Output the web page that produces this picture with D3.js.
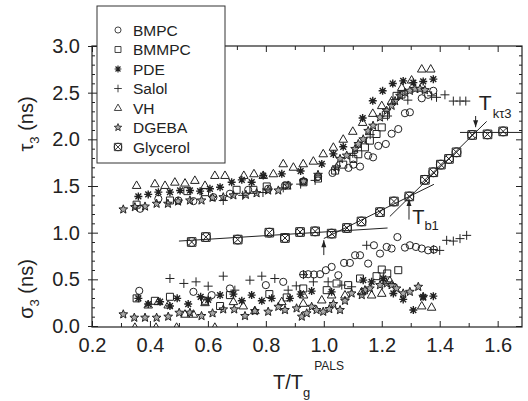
<!DOCTYPE html>
<html>
<head>
<meta charset="utf-8">
<script src="https://cdn.jsdelivr.net/npm/d3@7"></script>
<style>
  body { margin: 0; background: #fff; }
  svg text { font-family: "Liberation Sans", Arial, Helvetica, sans-serif; fill: #222; }
</style>
</head>
<body>
<svg id="chart" width="528" height="401"></svg>
<script>
// ---- data, [T/Tg, value in ns] ----
const bmpcTau = [[0.366,1.256],[0.429,1.363],[0.498,1.345],[0.55,1.338],[0.619,1.38],[0.676,1.417],[0.739,1.459],[0.808,1.47],[0.866,1.505],[0.93,1.55],[0.98,1.6],[1.03,1.64],[1.085,1.694],[1.102,1.729],[1.125,1.708],[1.153,1.826],[1.17,1.807],[1.188,1.93],[1.214,1.95],[1.234,2.06],[1.257,2.11],[1.28,2.28],[1.297,2.29],[1.338,2.44],[1.36,2.477],[1.378,2.52]];
const bmpcSigma = [[0.363,0.377],[0.55,0.366],[0.613,0.331],[0.676,0.402],[0.80,0.438],[0.86,0.473],[0.929,0.552],[0.946,0.555],[0.966,0.552],[0.987,0.555],[1.007,0.598],[1.027,0.633],[1.05,0.544],[1.07,0.676],[1.09,0.676],[1.108,0.758],[1.125,0.758],[1.153,0.669],[1.173,0.865],[1.194,0.776],[1.217,0.847],[1.234,0.83],[1.254,0.953],[1.28,0.84],[1.297,0.865],[1.318,0.847],[1.338,0.83],[1.36,0.811],[1.38,0.819]];

const bmmpcTau = [[0.354,1.30],[0.469,1.345],[0.529,1.445],[0.59,1.434],[0.699,1.459],[0.757,1.459],[0.803,1.495],[0.872,1.505],[0.93,1.54],[0.98,1.58],[1.039,1.665],[1.067,1.729],[1.102,1.79],[1.119,1.84],[1.142,1.914],[1.159,1.986],[1.182,2.057],[1.2,2.128],[1.214,2.263],[1.251,2.466],[1.268,2.48]];
const bmmpcSigma = [[0.354,0.296],[0.417,0.27],[0.469,0.313],[0.59,0.27],[0.642,0.214],[0.676,0.331],[0.812,0.342],[0.872,0.306],[0.929,0.402],[1.01,0.384],[1.044,0.456],[1.084,0.438],[1.125,0.509],[1.182,0.534],[1.20,0.605],[1.219,0.563],[1.257,0.598]];

const pdeTau = [[0.36,1.388],[0.394,1.41],[0.429,1.434],[0.469,1.434],[0.504,1.452],[0.538,1.452],[0.573,1.445],[0.607,1.47],[0.642,1.487],[0.682,1.54],[0.717,1.566],[0.751,1.54],[0.791,1.612],[0.855,1.63],[0.92,1.66],[0.993,1.737],[1.033,1.844],[1.067,1.92],[1.134,2.228],[1.169,2.413],[1.203,2.52],[1.238,2.598],[1.274,2.626],[1.309,2.608],[1.343,2.62],[1.378,2.645]];
const pdeSigma = [[0.36,0.296],[0.394,0.235],[0.435,0.26],[0.469,0.214],[0.494,0.296],[0.532,0.235],[0.575,0.313],[0.601,0.28],[0.642,0.331],[0.688,0.342],[0.717,0.27],[0.751,0.331],[0.786,0.27],[0.82,0.296],[0.883,0.296],[0.92,0.342],[0.958,0.374],[1.027,0.366],[1.136,0.491],[1.165,0.473],[1.205,0.509],[1.24,0.349],[1.274,0.285],[1.309,0.171],[1.343,0.313],[1.378,0.32]];

const salolTau = [[0.653,1.345],[0.72,1.40],[0.79,1.43],[0.86,1.48],[0.92,1.52],[0.97,1.56],[1.04,1.68],[1.1,1.85],[1.16,2.05],[1.22,2.25],[1.29,2.42],[1.372,2.466],[1.389,2.45],[1.418,2.477],[1.447,2.41],[1.47,2.41],[1.49,2.41]];
const salolSigma = [[0.469,0.509],[0.517,0.456],[0.559,0.473],[0.601,0.427],[0.653,0.534],[0.693,0.384],[0.745,0.491],[0.786,0.534],[0.831,0.509],[0.877,0.384],[0.905,0.43],[0.93,0.55],[0.964,0.473],[1.015,0.473],[1.062,0.438],[1.096,0.42],[1.148,0.865],[1.378,0.819],[1.40,0.81],[1.424,0.918],[1.447,0.91],[1.47,0.936],[1.493,0.971]];

const vhTau = [[0.354,1.505],[0.417,1.523],[0.452,1.505],[0.486,1.54],[0.521,1.53],[0.555,1.559],[0.59,1.505],[0.624,1.612],[0.659,1.612],[0.724,1.612],[0.759,1.63],[0.791,1.612],[0.826,1.63],[0.86,1.737],[0.895,1.70],[0.929,1.737],[0.964,1.765],[0.998,1.844],[1.033,1.914],[1.067,2.0],[1.1,2.085],[1.134,2.18],[1.169,2.277],[1.2,2.36],[1.234,2.41],[1.269,2.555],[1.303,2.634],[1.338,2.752],[1.369,2.752]];
const vhSigma = [[0.348,-0.015],[0.421,-0.015],[0.492,-0.015],[0.624,-0.015],[0.394,0.224],[0.429,0.26],[0.463,0.224],[0.521,0.125],[0.55,0.125],[0.59,0.249],[0.688,0.26],[0.722,0.214],[0.762,0.163],[0.855,0.26],[0.929,0.242],[0.93,0.331],[0.993,0.278],[1.027,0.331],[1.073,0.331],[1.131,0.366],[1.165,0.331],[1.2,0.349],[1.228,0.484],[1.338,0.214],[1.372,0.2]];

const dgebaTau = [[0.308,1.249],[0.348,1.274],[0.383,1.28],[0.423,1.31],[0.462,1.31],[0.497,1.334],[0.538,1.345],[0.578,1.345],[0.616,1.374],[0.653,1.38],[0.688,1.40],[0.731,1.406],[0.768,1.423],[0.808,1.452],[0.843,1.452],[0.877,1.505],[0.93,1.55],[0.98,1.62],[1.044,1.70],[1.056,1.79],[1.079,1.826],[1.108,1.897],[1.119,1.95],[1.136,2.0],[1.153,2.09],[1.17,2.146],[1.194,2.234],[1.217,2.306],[1.234,2.36],[1.246,2.41],[1.263,2.466],[1.28,2.50],[1.297,2.52],[1.315,2.54],[1.332,2.54],[1.349,2.527]];
const dgebaSigma = [[0.308,0.125],[0.346,0.089],[0.383,0.089],[0.423,0.089],[0.463,0.1],[0.501,0.142],[0.538,0.142],[0.578,0.107],[0.616,0.136],[0.653,0.178],[0.691,0.178],[0.728,0.107],[0.762,0.16],[0.808,0.153],[0.843,0.206],[0.866,0.171],[0.906,0.189],[0.924,0.1],[0.941,0.136],[0.958,0.206],[0.975,0.171],[0.998,0.153],[1.019,0.181],[1.033,0.235],[1.056,0.171],[1.073,0.27],[1.096,0.349],[1.131,0.331],[1.142,0.384],[1.159,0.402],[1.194,0.438],[1.217,0.456],[1.234,0.438],[1.251,0.402],[1.274,0.349],[1.297,0.366],[1.326,0.42],[1.343,0.313]];

const glycerolTau = [[0.544,0.90],[0.593,0.953],[0.703,0.926],[0.812,1.0],[0.866,0.943],[0.918,1.007],[0.970,1.014],[1.027,0.99],[1.08,1.05],[1.13,1.12],[1.194,1.22],[1.242,1.334],[1.295,1.388],[1.349,1.566],[1.378,1.647],[1.404,1.729],[1.432,1.79],[1.458,1.861],[1.512,2.047],[1.565,2.053],[1.619,2.085]];

// linear fits drawn through the glycerol data
const fitLines = [
  [[0.5, 0.91], [1.22, 1.05]],
  [[1.0, 0.937], [1.38, 1.518]],
  [[1.228, 1.174], [1.562, 2.192]],
  [[1.47, 2.074], [1.684, 2.074]]
];

const xMajor = [0.2, 0.4, 0.6, 0.8, 1.0, 1.2, 1.4, 1.6];
const yMajor = [0.0, 0.5, 1.0, 1.5, 2.0, 2.5, 3.0];

const seriesNames = ['BMPC', 'BMMPC', 'PDE', 'Salol', 'VH', 'DGEBA', 'Glycerol'];
const seriesKeys = ['circle', 'square', 'asterisk', 'plus', 'triangle', 'star', 'glycerol'];

// ---- layout ----
const svg = d3.select('#chart');
const ink = '#222';
const pLeft = 92, pRight = 522, pTop = 46, pBottom = 326;

const x = d3.scaleLinear().domain([0.2, 1.684]).range([pLeft, pRight]);
const y = d3.scaleLinear().domain([0, 3]).range([pBottom, pTop]);

// symbol shapes, centred on 0,0
function starPath(ro, ri) {
  let p = '';
  for (let i = 0; i < 10; i++) {
    const r = i % 2 ? ri : ro;
    const a = -Math.PI / 2 + i * Math.PI / 5;
    p += (i ? 'L' : 'M') + (r * Math.cos(a)).toFixed(2) + ',' + (r * Math.sin(a)).toFixed(2);
  }
  return p + 'Z';
}
const shapes = {
  circle:   {d: 'M3.6,0A3.6,3.6 0 1,1 -3.6,0A3.6,3.6 0 1,1 3.6,0Z', fill: 'none'},
  square:   {d: 'M-3.5,-3.5H3.5V3.5H-3.5Z', fill: 'none'},
  asterisk: {d: 'M-4,0H4M0,-4V4M-2.9,-2.9L2.9,2.9M-2.9,2.9L2.9,-2.9', fill: 'none', sw: 1.4},
  plus:     {d: 'M-4.5,0H4.5M0,-4.5V4.5', fill: 'none'},
  triangle: {d: 'M0,-4.6L4.3,2.9H-4.3Z', fill: 'none'},
  star:     {d: starPath(4.6, 2.0), fill: '#a8a8a8'},
  glycerol: {d: 'M-4.3,-4.3H4.3V4.3H-4.3ZM4.5,0A4.5,4.5 0 1,1 -4.5,0A4.5,4.5 0 1,1 4.5,0ZM-3.2,-3.2L3.2,3.2M-3.2,3.2L3.2,-3.2', fill: 'none'}
};

function drawSymbols(g, data, key) {
  const s = shapes[key];
  g.selectAll(null).data(data).enter().append('path')
    .attr('d', s.d)
    .attr('transform', d => `translate(${x(d[0])},${y(d[1])})`)
    .attr('fill', s.fill)
    .attr('stroke', ink)
    .attr('stroke-width', s.sw || 1);
}

svg.append('clipPath').attr('id', 'plotClip')
  .append('rect').attr('x', pLeft).attr('y', pTop).attr('width', pRight - pLeft).attr('height', pBottom - pTop + 1);

const plot = svg.append('g').attr('clip-path', 'url(#plotClip)');

// fit lines
plot.selectAll('line.fit').data(fitLines).enter().append('line')
  .attr('x1', d => x(d[0][0])).attr('y1', d => y(d[0][1]))
  .attr('x2', d => x(d[1][0])).attr('y2', d => y(d[1][1]))
  .attr('stroke', ink).attr('stroke-width', 1);

// markers
drawSymbols(plot, dgebaTau, 'star');
drawSymbols(plot, dgebaSigma, 'star');
drawSymbols(plot, vhTau, 'triangle');
drawSymbols(plot, vhSigma, 'triangle');
drawSymbols(plot, bmpcTau, 'circle');
drawSymbols(plot, bmpcSigma, 'circle');
drawSymbols(plot, bmmpcTau, 'square');
drawSymbols(plot, bmmpcSigma, 'square');
drawSymbols(plot, pdeTau, 'asterisk');
drawSymbols(plot, pdeSigma, 'asterisk');
drawSymbols(plot, salolTau, 'plus');
drawSymbols(plot, salolSigma, 'plus');
drawSymbols(plot, glycerolTau, 'glycerol');

// ---- axes, ticks inward on all four sides ----
const xMinor = d3.range(0.3, 1.6, 0.2);
const yMinor = d3.range(0, 3.001, 0.1).filter(v => Math.abs(v * 2 - Math.round(v * 2)) > 0.01);

function addAxis(axis, tx, ty) {
  const g = svg.append('g').attr('transform', `translate(${tx},${ty})`).call(axis);
  g.select('.domain').remove();
  g.selectAll('line').attr('stroke', ink);
  return g;
}
const gxb = addAxis(d3.axisBottom(x).tickValues(xMajor).tickSize(-6).tickPadding(11).tickFormat(d3.format('.1f')), 0, pBottom + 1);
gxb.selectAll('text').attr('font-size', 20).attr('fill', ink);
addAxis(d3.axisBottom(x).tickValues(xMinor).tickSize(-4).tickFormat(''), 0, pBottom + 1);
addAxis(d3.axisTop(x).tickValues(xMajor).tickSize(-6).tickFormat(''), 0, pTop);
addAxis(d3.axisTop(x).tickValues(xMinor).tickSize(-4).tickFormat(''), 0, pTop);

const gyl = addAxis(d3.axisLeft(y).tickValues(yMajor).tickSize(-6).tickPadding(8).tickFormat(d3.format('.1f')), pLeft, 0);
gyl.selectAll('text').attr('font-size', 20).attr('fill', ink).attr('dx', -4);
gyl.selectAll('.tick').append('line').attr('x2', -4).attr('stroke', ink);
addAxis(d3.axisLeft(y).tickValues(yMinor).tickSize(-3).tickFormat(''), pLeft, 0);
addAxis(d3.axisRight(y).tickValues(yMajor).tickSize(-6).tickFormat(''), pRight, 0);
addAxis(d3.axisRight(y).tickValues(yMinor).tickSize(-3).tickFormat(''), pRight, 0);

// frame
svg.append('rect').attr('x', pLeft).attr('y', pTop).attr('width', pRight - pLeft).attr('height', pBottom + 1 - pTop)
  .attr('fill', 'none').attr('stroke', ink).attr('stroke-width', 1.2);

// ---- axis titles ----
const xt = svg.append('text').attr('x', 273).attr('y', 389).attr('font-size', 20);
xt.append('tspan').text('T/T');
xt.append('tspan').attr('font-size', 13).attr('dy', 8).text('g');
xt.append('tspan').attr('font-size', 12).attr('dx', 4).attr('dy', -27).text('PALS');

function yTitle(sym, cy) {
  const t = svg.append('text').attr('transform', `translate(33,${cy}) rotate(-90)`)
    .attr('text-anchor', 'middle').attr('font-size', 20);
  t.append('tspan').text(sym);
  t.append('tspan').attr('font-size', 13).attr('dy', 6).text('3');
  t.append('tspan').attr('dy', -6).text(' (ns)');
}
yTitle('τ', 124);
yTitle('σ', 289);

// ---- annotations ----
function arrow(xv, y0, y1) {
  svg.append('line').attr('x1', x(xv)).attr('x2', x(xv)).attr('y1', y(y0)).attr('y2', y(y1))
    .attr('stroke', ink).attr('stroke-width', 1);
  const tipY = y(y1), dir = y1 > y0 ? 1 : -1;
  svg.append('path')
    .attr('d', `M${x(xv)},${tipY}L${x(xv) - 2.5},${tipY + dir * 7}L${x(xv) + 2.5},${tipY + dir * 7}Z`)
    .attr('fill', ink);
}
arrow(1.0, 0.76, 0.92);
arrow(1.294, 1.14, 1.36);
arrow(1.524, 2.25, 2.13);

const tb = svg.append('text').attr('x', x(1.305)).attr('y', 224).attr('font-size', 20);
tb.append('tspan').text('T');
tb.append('tspan').attr('font-size', 13).attr('dy', 6).text('b1');

const tk = svg.append('text').attr('x', x(1.535)).attr('y', 110).attr('font-size', 21);
tk.append('tspan').text('T');
tk.append('tspan').attr('font-size', 13).attr('dy', 8).attr('dx', 1).text('kτ3');

// ---- legend ----
const lg = svg.append('g');
lg.append('rect').attr('x', 97).attr('y', 6).attr('width', 128).attr('height', 157)
  .attr('fill', '#fff').attr('stroke', '#333').attr('stroke-width', 1);
seriesNames.forEach((name, i) => {
  const cy = 30 + i * 19.5;
  const s = shapes[seriesKeys[i]];
  lg.append('path').attr('d', s.d).attr('transform', `translate(118,${cy}) scale(0.85)`)
    .attr('fill', s.fill).attr('stroke', ink).attr('stroke-width', s.sw || 1);
  lg.append('text').attr('x', 133).attr('y', cy + 5.5).attr('font-size', 15.5).text(name);
});
</script>
</body>
</html>
